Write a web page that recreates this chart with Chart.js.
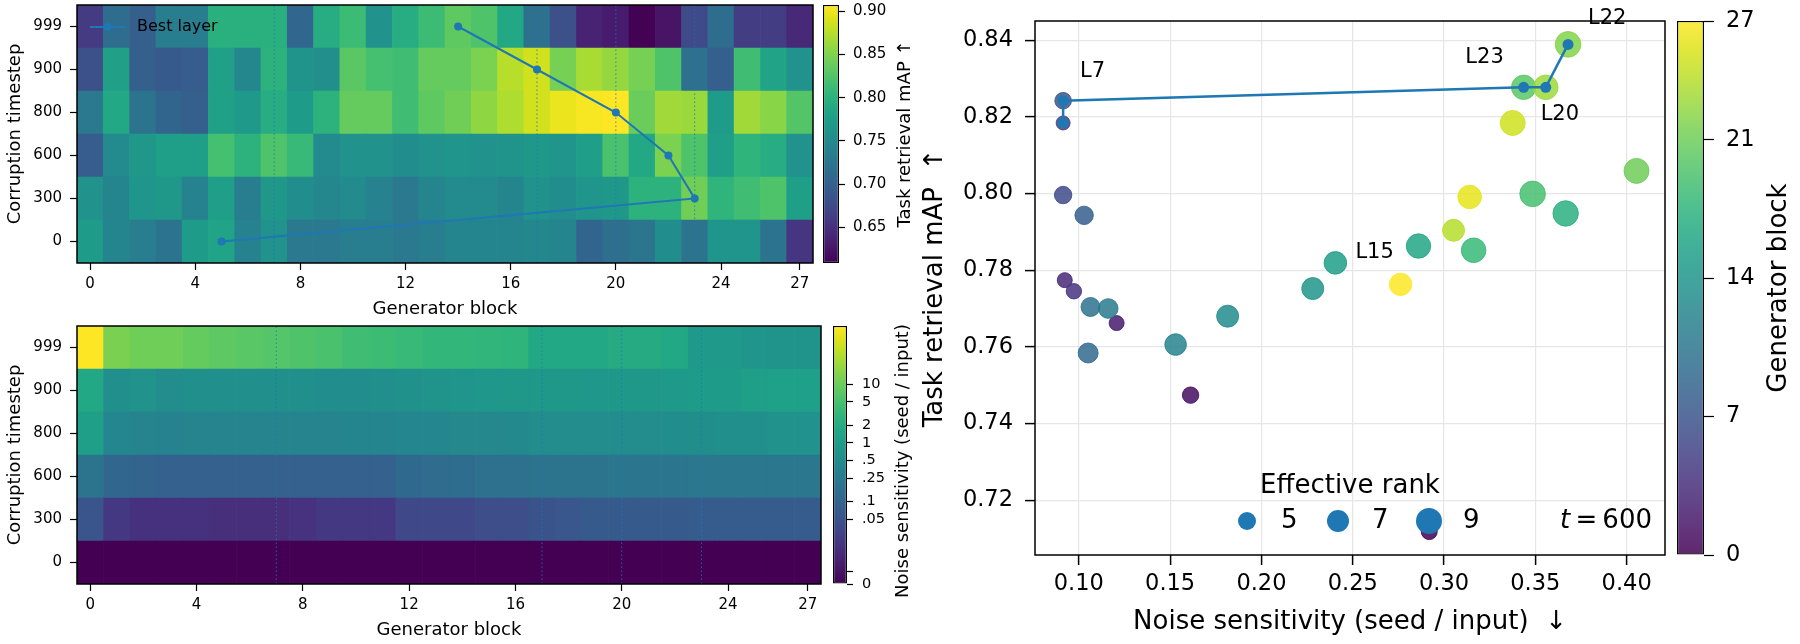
<!DOCTYPE html>
<html>
<head>
<meta charset="utf-8">
<script src="https://cdn.jsdelivr.net/npm/chart.js@4.4.1/dist/chart.umd.min.js"></script>
<style>
  html, body { margin: 0; padding: 0; background: #fff; }
  #wrap { position: relative; width: 1800px; height: 644px; }
  #wrap canvas { position: absolute; left: 0; top: 0; }
</style>
</head>
<body>
<div id="wrap">
  <canvas id="mapTop" width="1800" height="644"></canvas>
  <canvas id="cbTop" width="1800" height="644"></canvas>
  <canvas id="mapBottom" width="1800" height="644"></canvas>
  <canvas id="cbBottom" width="1800" height="644"></canvas>
  <canvas id="scatter" width="1800" height="644"></canvas>
  <canvas id="cbScatter" width="1800" height="644"></canvas>
</div>
<script>
// ---- data ----
const timesteps = ['0', '300', '600', '800', '900', '999'];
const blockTicks = [0, 4, 8, 12, 16, 20, 24, 27];
const markedBlocks = [7, 17, 20, 23];
const bestLayer = [5, 23, 22, 20, 17, 14];   // best block per timestep (0 .. 999)

// task retrieval mAP, one array per corruption timestep, blocks 0..27
const mapT0   = [0.773,0.744,0.735,0.723,0.773,0.782,0.741,0.759,0.729,0.729,0.735,0.735,0.729,0.735,0.744,0.744,0.744,0.747,0.744,0.705,0.717,0.726,0.753,0.723,0.764,0.764,0.723,0.655];
const mapT300 = [0.759,0.744,0.764,0.767,0.741,0.776,0.735,0.767,0.753,0.747,0.750,0.741,0.729,0.744,0.750,0.750,0.744,0.759,0.753,0.764,0.767,0.800,0.800,0.842,0.803,0.815,0.824,0.776];
const mapT600 = [0.696,0.750,0.767,0.776,0.776,0.818,0.800,0.824,0.809,0.750,0.759,0.759,0.753,0.759,0.764,0.759,0.761,0.767,0.764,0.776,0.821,0.788,0.848,0.824,0.776,0.803,0.794,0.759];
const mapT800 = [0.729,0.788,0.723,0.705,0.699,0.779,0.770,0.794,0.773,0.800,0.836,0.836,0.815,0.833,0.842,0.857,0.871,0.886,0.898,0.904,0.907,0.839,0.865,0.862,0.773,0.865,0.854,0.827];
const mapT900 = [0.681,0.779,0.699,0.693,0.696,0.779,0.747,0.800,0.761,0.756,0.830,0.818,0.815,0.836,0.836,0.848,0.874,0.886,0.845,0.868,0.859,0.845,0.824,0.720,0.699,0.815,0.782,0.759];
const mapT999 = [0.660,0.714,0.699,0.735,0.735,0.797,0.797,0.797,0.708,0.794,0.812,0.759,0.794,0.812,0.833,0.824,0.788,0.720,0.681,0.637,0.631,0.610,0.625,0.675,0.714,0.663,0.663,0.643];
const mapMin = 0.609, mapMax = 0.907;
const mapCbTicks = [0.65, 0.70, 0.75, 0.80, 0.85, 0.90];

// noise sensitivity (seed / input)
const nsT0   = new Array(28).fill(0);
const nsT300 = [0.055,0.020,0.016,0.016,0.016,0.015,0.015,0.015,0.017,0.020,0.020,0.020,0.036,0.036,0.036,0.042,0.042,0.052,0.060,0.067,0.067,0.067,0.067,0.074,0.074,0.074,0.074,0.074];
const nsT600 = [0.184,0.110,0.100,0.090,0.090,0.090,0.090,0.090,0.090,0.090,0.090,0.090,0.122,0.136,0.140,0.166,0.166,0.184,0.184,0.184,0.204,0.204,0.204,0.214,0.214,0.214,0.214,0.214];
const nsT800 = [1.14,0.41,0.37,0.34,0.37,0.37,0.37,0.37,0.37,0.37,0.39,0.39,0.41,0.41,0.43,0.43,0.46,0.51,0.51,0.51,0.51,0.51,0.53,0.56,0.59,0.59,0.65,0.65];
const nsT900 = [1.71,0.59,0.65,0.51,0.59,0.59,0.59,0.59,0.59,0.53,0.53,0.59,0.62,0.69,0.76,0.80,0.84,0.84,0.84,0.80,0.84,0.84,0.93,0.98,1.03,1.14,1.20,1.20];
const nsT999 = [100,13.0,10.6,10.6,8.7,7.8,7.1,6.4,5.8,5.2,4.3,3.85,3.5,3.15,3.15,3.0,2.8,1.7,1.7,1.7,1.9,1.9,1.7,0.93,0.93,0.76,0.69,0.69];
const nsCbTicks  = [0, 0.0063, 0.05, 0.1, 0.25, 0.5, 1, 2, 5, 10];
const nsCbLabels = ['0', '', '.05', '.1', '.25', '.5', '1', '2', '5', '10'];

// t = 600 scatter, one entry per generator block 0..27
const noiseT600 = [0.2919,0.1612,0.1207,0.0923,0.0973,0.0914,0.0914,0.0914,0.1029,0.1051,0.1064,0.1161,0.1530,0.1815,0.2281,0.2405,0.2860,0.3666,0.3162,0.3485,0.3436,0.4054,0.3679,0.3557,0.3052,0.3376,0.3140,0.2762];
const mAPT600   = [0.7118,0.7474,0.7662,0.7774,0.7745,0.8184,0.7996,0.8242,0.7943,0.7584,0.7704,0.7700,0.7606,0.7680,0.7752,0.7819,0.7863,0.7948,0.7852,0.7999,0.8277,0.8059,0.8389,0.8277,0.7904,0.8184,0.7991,0.7763];
const effRank   = [4.0,4.2,3.5,3.5,3.7,3.0,4.7,4.3,5.2,6.0,5.5,5.8,6.8,7.0,7.0,7.3,8.2,8.7,8.3,8.8,8.2,8.5,8.8,8.3,7.0,8.5,7.8,7.2];
const bestPath  = [5, 7, 20, 23, 22];
const labelled  = [7, 15, 20, 23, 22];
const legendRanks = [5, 7, 9];
const blockCbTicks = [0, 7, 14, 21, 27];

// ---- helpers ----
const FONT = "'DejaVu Sans', 'Liberation Sans', sans-serif";
const BLUE = '#1f77b4';
Chart.defaults.font.family = FONT;
Chart.defaults.color = '#000';

const VIRIDIS = ['#440154','#471365','#482475','#463480','#414487','#3b528b','#355f8d','#2f6c8e','#2a788e','#25848e',
                 '#21918c','#1e9c89','#22a884','#2fb47c','#44bf70','#5ec962','#7ad151','#9bd93c','#bddf26','#dfe318','#fde725'];
const VIR_RGB = VIRIDIS.map(h => [1, 3, 5].map(i => parseInt(h.substr(i, 2), 16)));
function viridis(t, alpha = 1) {
  t = Math.min(1, Math.max(0, t));
  const p = t * (VIR_RGB.length - 1);
  const i = Math.min(Math.floor(p), VIR_RGB.length - 2);
  const f = p - i;
  const c = VIR_RGB[i].map((v, k) => Math.round(v + (VIR_RGB[i + 1][k] - v) * f));
  return `rgba(${c[0]},${c[1]},${c[2]},${alpha})`;
}
// log-like colour norm of the noise map: 1 sits at 0.547, one decade = 0.227
function noiseNorm(v) {
  if (v <= 0) return 0;
  return Math.max(0, Math.min(1, 0.547 + 0.227 * Math.log10(v)));
}
function rankRadius(r) { return 4 + r; }

function fixSize(prop, size) {
  return s => { s[prop] = size; s.paddingLeft = s.paddingRight = s.paddingTop = s.paddingBottom = 0; };
}
function drawText(ctx, text, x, y, size, o = {}) {
  ctx.save();
  ctx.font = `${o.style || ''} ${size}px ${FONT}`;
  ctx.fillStyle = '#000';
  ctx.textAlign = o.align || 'left';
  ctx.textBaseline = o.baseline || 'middle';
  ctx.translate(x, y);
  if (o.rotate) ctx.rotate(o.rotate);
  ctx.fillText(text, 0, 0);
  ctx.restore();
}
const framePlugin = {
  id: 'frame',
  afterDatasetsDraw(chart) {
    const { ctx, chartArea: a } = chart;
    ctx.save();
    ctx.strokeStyle = '#000';
    ctx.lineWidth = 1.5;
    ctx.strokeRect(a.left, a.top, a.right - a.left, a.bottom - a.top);
    ctx.restore();
  }
};
const baseOpts = {
  responsive: false, animation: false, events: [],
  plugins: { legend: { display: false }, tooltip: { enabled: false } }
};
const tickGrid = len => ({ display: true, drawOnChartArea: false, drawTicks: true, tickLength: len, tickColor: '#000', tickWidth: 1.2, offset: false });

// ---- heatmaps ----
function heatmap(id, rows, colorOf, area, extraPlugins) {
  const cells = rows.map((row, r) => ({
    type: 'bar',
    data: row.map((v, c) => ({ x: c, y: [r, r + 1] })),
    backgroundColor: row.map(colorOf),
    grouped: false, barPercentage: 1, categoryPercentage: 1, borderWidth: 0, order: 10
  }));
  const marks = markedBlocks.map(b => ({
    type: 'line', data: [{ x: b, y: 0 }, { x: b, y: timesteps.length }],
    borderColor: 'rgba(31,119,180,0.8)', borderWidth: 1, borderDash: [1.5, 2.5], pointRadius: 0, order: 5
  }));
  return new Chart(document.getElementById(id), {
    type: 'bar',
    data: { datasets: cells.concat(marks, extraPlugins.datasets || []) },
    options: {
      ...baseOpts,
      layout: { padding: { left: 0, top: area.top, right: 1800 - area.right, bottom: 644 - area.bottom - 57 } },
      scales: {
        x: {
          type: 'linear', min: -0.5, max: 27.5, offset: false,
          grid: tickGrid(7), border: { display: false },
          afterBuildTicks: s => { s.ticks = blockTicks.map(v => ({ value: v })); },
          afterFit: fixSize('height', 57),
          ticks: { font: { size: 15 }, color: '#000', padding: 5, maxRotation: 0, autoSkip: false },
          title: { display: true, text: 'Generator block', font: { size: 18 }, color: '#000', padding: { top: 0, bottom: 0 } }
        },
        y: {
          type: 'linear', min: 0, max: timesteps.length,
          grid: tickGrid(7), border: { display: false },
          afterBuildTicks: s => { s.ticks = timesteps.map((t, i) => ({ value: i + 0.5 })); },
          afterFit: fixSize('width', area.left),
          ticks: { font: { size: 15 }, color: '#000', padding: 8, callback: v => timesteps[Math.floor(v)] },
          title: { display: true, text: 'Corruption timestep', font: { size: 18 }, color: '#000', padding: { top: 4.7, bottom: 0 } }
        }
      }
    },
    plugins: [framePlugin].concat(extraPlugins.plugins || [])
  });
}

heatmap('mapTop', [mapT0, mapT300, mapT600, mapT800, mapT900, mapT999],
  v => viridis((v - mapMin) / (mapMax - mapMin)),
  { left: 77, right: 813, top: 5, bottom: 263 },
  {
    datasets: [{
      type: 'line', data: bestLayer.map((b, r) => ({ x: b, y: r + 0.5 })),
      borderColor: BLUE, borderWidth: 2, pointRadius: 4, pointBackgroundColor: BLUE, pointBorderWidth: 0, order: 0
    }],
    plugins: [{
      id: 'bestLegend',
      afterDraw(chart) {
        const { ctx, chartArea: a } = chart;
        const y = a.top + 22;
        ctx.save();
        ctx.strokeStyle = BLUE; ctx.lineWidth = 2;
        ctx.beginPath(); ctx.moveTo(a.left + 13, y); ctx.lineTo(a.left + 48, y); ctx.stroke();
        ctx.fillStyle = BLUE;
        ctx.beginPath(); ctx.arc(a.left + 30.5, y, 4, 0, 2 * Math.PI); ctx.fill();
        ctx.restore();
        drawText(ctx, 'Best layer', a.left + 60, y, 16);
      }
    }]
  });

heatmap('mapBottom', [nsT0, nsT300, nsT600, nsT800, nsT900, nsT999],
  v => viridis(noiseNorm(v)),
  { left: 77, right: 821, top: 326, bottom: 584 }, {});

// ---- colorbars ----
function cbGradient(chart, alpha) {
  const a = chart.chartArea;
  if (!a) return viridis(0.5, alpha);
  const g = chart.ctx.createLinearGradient(0, a.bottom, 0, a.top);
  VIRIDIS.forEach((_, i) => {
    const t = i / (VIRIDIS.length - 1);
    g.addColorStop(t, viridis(t, alpha));
  });
  return g;
}
function colorbar(id, c) {
  return new Chart(document.getElementById(id), {
    type: 'bar',
    data: {
      labels: [''],
      datasets: [{
        data: [[c.min, c.max]], backgroundColor: ctx => cbGradient(ctx.chart, c.alpha),
        borderColor: '#000', borderWidth: 1.3, borderSkipped: false,
        barPercentage: 1, categoryPercentage: 1, inflateAmount: 0
      }]
    },
    options: {
      ...baseOpts,
      layout: { padding: { left: c.area.left, top: c.area.top, right: 1800 - c.area.right - c.axisWidth, bottom: 644 - c.area.bottom } },
      scales: {
        x: { display: false },
        y: {
          position: 'right', min: c.min, max: c.max,
          grid: tickGrid(c.tickLen), border: { display: false },
          afterBuildTicks: s => { s.ticks = c.ticks.map(v => ({ value: v })); },
          afterFit: fixSize('width', c.axisWidth),
          ticks: { font: { size: c.fontSize }, color: '#000', padding: c.pad, callback: (v, i) => c.labels[i] }
        }
      }
    },
    plugins: [{
      id: 'cbTitle',
      afterDraw(chart) {
        drawText(chart.ctx, c.title, c.titleX, c.titleY, c.titleSize, { align: 'center', rotate: -Math.PI / 2 });
      }
    }]
  });
}

colorbar('cbTop', {
  min: mapMin, max: mapMax, ticks: mapCbTicks, labels: mapCbTicks.map(v => v.toFixed(2)),
  area: { left: 823, right: 839, top: 5, bottom: 263 }, axisWidth: 55, tickLen: 6, pad: 8, fontSize: 15, alpha: 1,
  title: 'Task retrieval mAP ↑', titleX: 905.5, titleY: 134, titleSize: 18
});
colorbar('cbBottom', {
  min: 0, max: 1, ticks: nsCbTicks.map(noiseNorm), labels: nsCbLabels,
  area: { left: 833, right: 847, top: 326, bottom: 584 }, axisWidth: 50, tickLen: 6, pad: 9, fontSize: 14.5, alpha: 1,
  title: 'Noise sensitivity (seed / input)', titleX: 903, titleY: 461, titleSize: 18
});
colorbar('cbScatter', {
  min: 0, max: 27, ticks: blockCbTicks, labels: blockCbTicks.map(String),
  area: { left: 1677, right: 1704, top: 21, bottom: 555 }, axisWidth: 70, tickLen: 10, pad: 12, fontSize: 22.5, alpha: 0.85,
  title: 'Generator block', titleX: 1779, titleY: 288, titleSize: 26
});

// ---- scatter at t = 600 ----
const blockIdx = noiseT600.map((_, i) => i);
const pointColors = blockIdx.map(b => viridis(b / 27, 0.85));
const labelOffsets = {
  7:  { dx: 17,  dy: -24, align: 'left' },
  15: { dx: 20,  dy: -5,  align: 'left' },
  20: { dx: 17,  dy: 33,  align: 'left' },
  23: { dx: -42, dy: -24, align: 'right' },
  22: { dx: 20,  dy: -20, align: 'left' }
};

new Chart(document.getElementById('scatter'), {
  type: 'scatter',
  data: {
    datasets: [
      {
        type: 'line', data: bestPath.map(b => ({ x: noiseT600[b], y: mAPT600[b] })),
        borderColor: BLUE, borderWidth: 2.5, tension: 0,
        pointRadius: 5.5, pointBackgroundColor: BLUE, pointBorderWidth: 0, order: 0
      },
      {
        data: blockIdx.map(b => ({ x: noiseT600[b], y: mAPT600[b] })),
        pointRadius: effRank.map(rankRadius),
        pointBackgroundColor: pointColors, pointBorderColor: pointColors, pointBorderWidth: 1, order: 1
      }
    ]
  },
  options: {
    ...baseOpts,
    layout: { padding: { left: 920, top: 21, right: 135, bottom: 6 } },
    scales: {
      x: {
        type: 'linear', min: 0.076, max: 0.421,
        grid: { color: '#e6e6e6', lineWidth: 1.2, drawTicks: true, tickLength: 10, tickColor: '#000', tickWidth: 1.5 },
        border: { display: false },
        afterBuildTicks: s => { s.ticks = [0.10, 0.15, 0.20, 0.25, 0.30, 0.35, 0.40].map(v => ({ value: v })); },
        afterFit: fixSize('height', 83),
        ticks: { font: { size: 22.5 }, color: '#000', padding: 6, maxRotation: 0, callback: v => v.toFixed(2) },
        title: { display: true, text: 'Noise sensitivity (seed / input)  ↓', font: { size: 26 }, color: '#000', padding: { top: 0, bottom: 0 } }
      },
      y: {
        type: 'linear', min: 0.7057, max: 0.845,
        grid: { color: '#e6e6e6', lineWidth: 1.2, drawTicks: true, tickLength: 10, tickColor: '#000', tickWidth: 1.5 },
        border: { display: false },
        afterBuildTicks: s => { s.ticks = [0.72, 0.74, 0.76, 0.78, 0.80, 0.82, 0.84].map(v => ({ value: v })); },
        afterFit: fixSize('width', 115),
        ticks: { font: { size: 22.5 }, color: '#000', padding: 12, callback: v => v.toFixed(2) },
        title: { display: true, text: 'Task retrieval mAP  ↑', font: { size: 26 }, color: '#000', padding: { top: 0, bottom: 0 } }
      }
    }
  },
  plugins: [framePlugin, {
    id: 'annotations',
    afterDraw(chart) {
      const { ctx, chartArea: a, scales: { x, y } } = chart;
      labelled.forEach(b => {
        const o = labelOffsets[b];
        drawText(ctx, 'L' + b, x.getPixelForValue(noiseT600[b]) + o.dx, y.getPixelForValue(mAPT600[b]) + o.dy, 21,
          { align: o.align, baseline: 'alphabetic' });
      });
      // size legend
      const cx = (a.left + a.right) / 2;
      drawText(ctx, 'Effective rank', cx, a.bottom - 69, 26, { align: 'center' });
      const ly = a.bottom - 34;
      legendRanks.forEach((r, i) => {
        const mx = cx - 103 + i * 91;
        ctx.save();
        ctx.fillStyle = BLUE;
        ctx.beginPath(); ctx.arc(mx, ly, rankRadius(r), 0, 2 * Math.PI); ctx.fill();
        ctx.restore();
        drawText(ctx, String(r), mx + 34, ly, 26);
      });
      // timestep tag
      ctx.save();
      ctx.font = `26px ${FONT}`;
      const rest = '\u2009=\u2009600';
      const w = ctx.measureText(rest).width;
      ctx.restore();
      drawText(ctx, rest, a.right - 13, a.bottom - 27, 26, { align: 'right', baseline: 'alphabetic' });
      drawText(ctx, 't', a.right - 13 - w, a.bottom - 27, 26, { align: 'right', baseline: 'alphabetic', style: 'italic' });
    }
  }]
});
</script>
</body>
</html>
